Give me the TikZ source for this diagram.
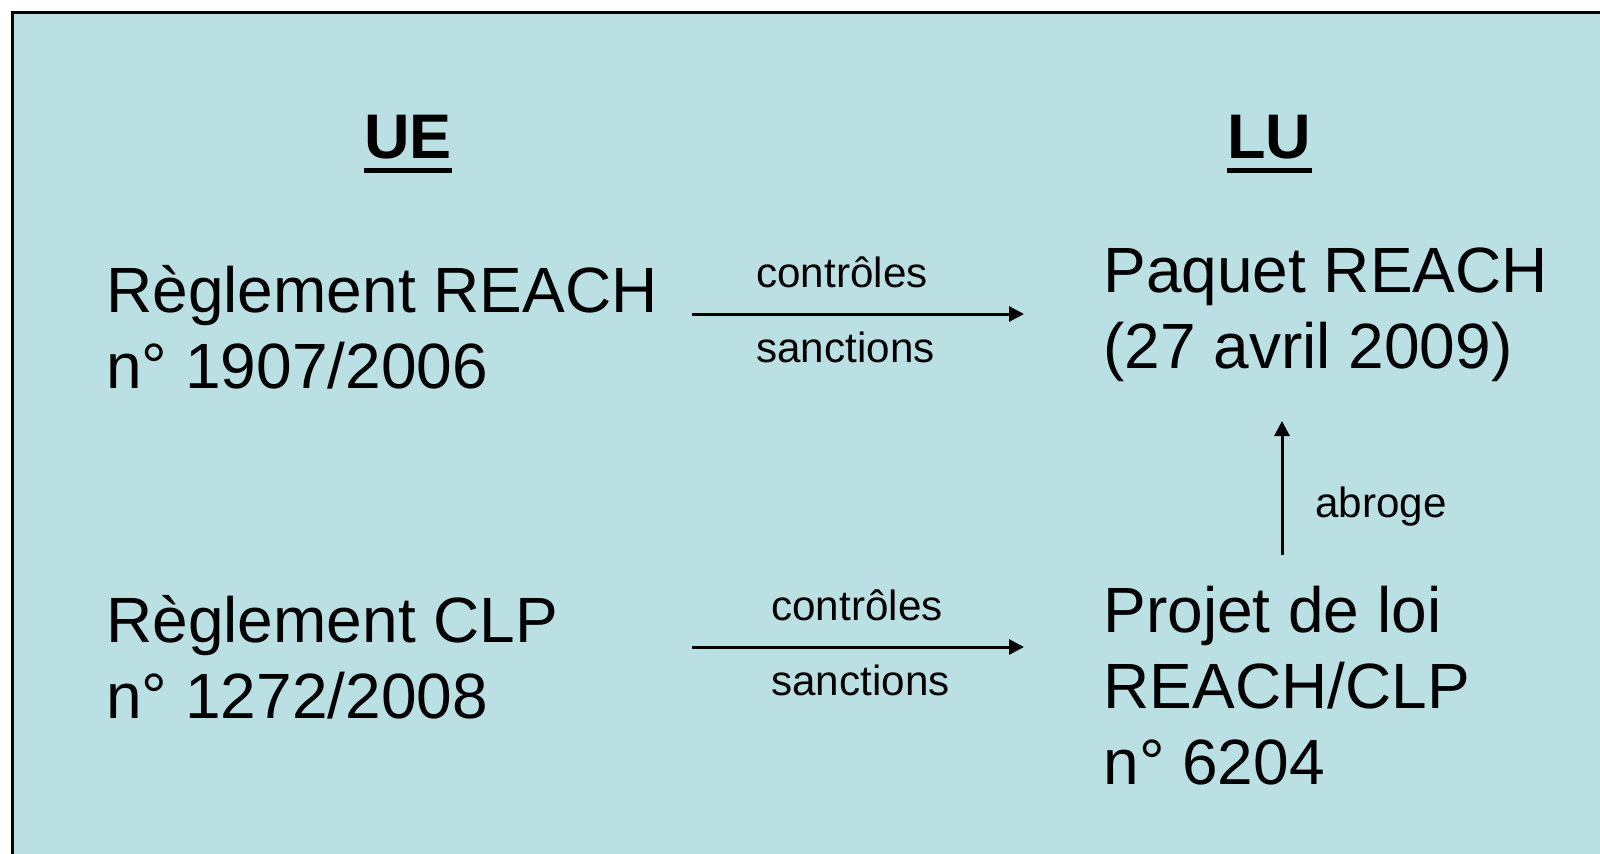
\documentclass[tikz,border=0pt]{standalone}
\usepackage{fontspec}
\setmainfont{Liberation Sans}
\usetikzlibrary{arrows.meta}
\definecolor{bgblue}{HTML}{BBE0E3}
\begin{document}
\begin{tikzpicture}[x=0.5pt,y=-0.5pt,
  big/.style={font=\fontsize{32}{38}\selectfont, inner sep=0pt, anchor=base west, align=left},
  small/.style={font=\fontsize{21.1}{24}\selectfont, inner sep=0pt, anchor=base west},
  head/.style={font=\fontsize{31.5}{38}\selectfont\bfseries, inner sep=0pt, anchor=base west},
  uline/.style={line width=2.5pt},
  conn/.style={line width=1.5pt, -{Triangle[length=7.5pt,width=7.5pt]}}]
\useasboundingbox (0,0) rectangle (1600,853);
\clip (0,0) rectangle (1600,853);
\fill[white] (0,0) rectangle (1600,853);
\draw[fill=bgblue, line width=1.5pt] (12,12) rectangle (1620,880);
% headings
\node[head] (ue) at (364,158) {UE};
\node[head] (lu) at (1227,158) {LU};
\draw[uline] ([yshift=-6pt]ue.base west) -- ([yshift=-6pt]ue.base east);
\draw[uline] ([yshift=-6pt]lu.base west) -- ([yshift=-6pt]lu.base east);
% blocks (anchor = baseline of the last line)
\node[big] (reach) at (106,388) {Règlement REACH\\n° 1907/2006};
\node[big] (clp) at (106,718) {Règlement CLP\\n° 1272/2008};
\node[big] (paquet) at (1103,368) {Paquet REACH\\(27 avril 2009)};
\node[big] (projet) at (1103,784) {Projet de loi\\REACH/CLP\\n° 6204};
% connectors
\coordinate (a1s) at (692,314);
\coordinate (a1e) at (1024,314);
\coordinate (a2s) at (692,647);
\coordinate (a2e) at (1024,647);
\coordinate (a3s) at (1282,555);
\coordinate (a3e) at (1282,421);
\draw[conn] (a1s) -- (a1e);
\draw[conn] (a2s) -- (a2e);
\draw[conn] (a3s) -- (a3e);
% labels
\node[small] (c1) at (756,287) {contrôles};
\node[small] (s1) at (756,362) {sanctions};
\node[small] (c2) at (771,620) {contrôles};
\node[small] (s2) at (771,695) {sanctions};
\node[small] (ab) at (1315,517) {abroge};
\end{tikzpicture}
\end{document}
